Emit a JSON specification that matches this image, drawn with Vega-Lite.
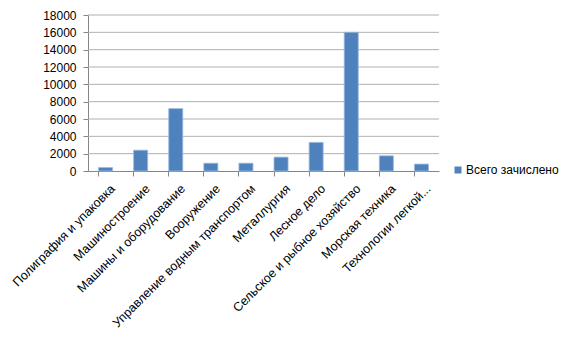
{
  "$schema": "https://vega.github.io/schema/vega-lite/v6.json",
  "width": 351,
  "height": 156,
  "autosize": {"type": "none"},
  "padding": {"left": 88, "top": 15, "right": 138, "bottom": 166},
  "background": "white",
  "config": {
    "view": {"stroke": null},
    "font": "Liberation Sans",
    "axis": {"labelFont": "Liberation Sans", "labelFontSize": 12, "labelColor": "#000000", "domainColor": "#868686", "tickColor": "#868686"}
  },
  "datasets": {
    "bars": [
      {"category": "Полиграфия и упаковка", "value": 400, "series": "Всего зачислено"},
      {"category": "Машиностроение", "value": 2400, "series": "Всего зачислено"},
      {"category": "Машины и оборудование", "value": 7200, "series": "Всего зачислено"},
      {"category": "Вооружение", "value": 900, "series": "Всего зачислено"},
      {"category": "Управление водным транспортом", "value": 900, "series": "Всего зачислено"},
      {"category": "Металлургия", "value": 1600, "series": "Всего зачислено"},
      {"category": "Лесное дело", "value": 3300, "series": "Всего зачислено"},
      {"category": "Сельское и рыбное хозяйство", "value": 16000, "series": "Всего зачислено"},
      {"category": "Морская техника", "value": 1750, "series": "Всего зачислено"},
      {"category": "Технологии легкой...", "value": 800, "series": "Всего зачислено"}
    ],
    "grid": [
      {"value": 2000}, {"value": 4000}, {"value": 6000}, {"value": 8000},
      {"value": 10000}, {"value": 12000}, {"value": 14000}, {"value": 16000}, {"value": 18000}
    ]
  },
  "layer": [
    {
      "data": {"name": "grid"},
      "mark": {"type": "rule", "color": "#b0b0b0", "strokeWidth": 1},
      "encoding": {
        "y": {
          "field": "value",
          "type": "quantitative",
          "title": null,
          "scale": {"domain": [0, 18000], "nice": false},
          "axis": {"values": [0, 2000, 4000, 6000, 8000, 10000, 12000, 14000, 16000, 18000], "format": "d", "tickSize": 5, "labelPadding": 7, "grid": false}
        }
      }
    },
    {
      "data": {"name": "bars"},
      "mark": {"type": "bar", "stroke": "#9bbbe0", "strokeWidth": 0.8},
      "encoding": {
        "x": {
          "field": "category",
          "type": "nominal",
          "sort": null,
          "title": null,
          "scale": {"paddingInner": 0.6, "paddingOuter": 0.3},
          "axis": {"labelAngle": -45, "labelAlign": "right", "labelBaseline": "top", "bandPosition": 0, "tickSize": 5, "labelPadding": 6, "labelOffset": 3, "labelFontSize": 12.5, "labelLimit": 300, "grid": false}
        },
        "y": {
          "field": "value",
          "type": "quantitative",
          "title": null,
          "scale": {"domain": [0, 18000], "nice": false},
          "axis": {"values": [0, 2000, 4000, 6000, 8000, 10000, 12000, 14000, 16000, 18000], "format": "d", "tickSize": 5, "labelPadding": 7, "grid": false}
        },
        "color": {
          "field": "series",
          "type": "nominal",
          "scale": {"range": ["#4f81bd"]},
          "legend": {"title": null, "orient": "none", "legendX": 364, "legendY": 149, "symbolType": "square", "symbolSize": 49, "labelOffset": 2, "labelFontSize": 12, "labelFont": "Liberation Sans", "labelColor": "#000000", "symbolStrokeWidth": 0}
        }
      }
    }
  ]
}
